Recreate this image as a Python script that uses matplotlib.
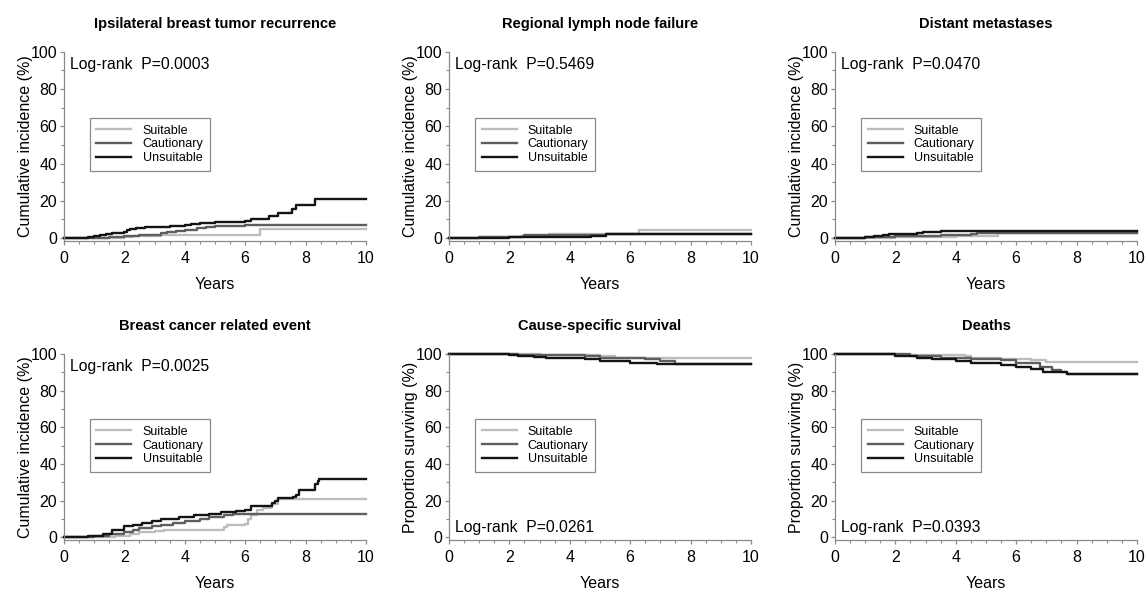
import numpy as np, matplotlib
matplotlib.use("Agg")
import matplotlib.pyplot as plt
from matplotlib.ticker import MultipleLocator

plt.rcParams.update({"font.family": ["Liberation Sans", "DejaVu Sans"], "font.size": 11})

GROUPS = ["Suitable", "Cautionary", "Unsuitable"]
COLORS = {"Suitable": "#bdbdbd", "Cautionary": "#5e5e5e", "Unsuitable": "#141414"}

# ---- step-curve data: (years, percent) ----
ibtr_s_t = [0, 2.0, 2.3, 3.2, 6.5, 10]
ibtr_s_v = [0, 0.5, 1, 1.5, 4.9, 4.9]
ibtr_c_t = [0, 1.5, 2.0, 2.5, 3.2, 3.4, 3.7, 4.0, 4.4, 4.7, 5.0, 5.5, 6.0, 10]
ibtr_c_v = [0, 0.5, 1, 1.5, 2.5, 3.3, 4, 4.5, 5.3, 6, 6.3, 6.7, 7, 7]
ibtr_u_t = [0, 0.8, 1.0, 1.2, 1.4, 1.6, 1.8, 2.0, 2.1, 2.2, 2.4, 2.7, 3.0, 3.5, 4.0, 4.2, 4.5,
            5.0, 5.6, 6.0, 6.2, 6.8, 7.1, 7.55, 7.7, 8.3, 10]
ibtr_u_v = [0, 0.5, 1, 1.5, 2, 2.5, 3, 3.5, 4.2, 5, 5.5, 6, 6.2, 6.5, 7, 7.5, 8,
            8.5, 8.8, 9.3, 10.5, 12, 13.5, 15.5, 18, 21, 21]

rln_s_t = [0, 1.0, 2.4, 3.3, 6.3, 10]
rln_s_v = [0, 0.5, 1, 2, 4.5, 4.5]
rln_c_t = [0, 1.0, 2.5, 5.2, 10]
rln_c_v = [0, 0.5, 1.5, 2, 2]
rln_u_t = [0, 0.7, 2.0, 4.7, 5.2, 10]
rln_u_v = [0, 0.3, 0.8, 1, 2, 2]

dm_s_t = [0, 2.0, 4.0, 5.4, 10]
dm_s_v = [0, 0.5, 1, 2.5, 2.5]
dm_c_t = [0, 1.0, 2.0, 3.0, 3.5, 4.5, 4.7, 10]
dm_c_v = [0, 0.5, 1, 1.2, 1.5, 2, 2.5, 2.5]
dm_u_t = [0, 0.5, 1.0, 1.3, 1.6, 1.8, 2.7, 2.9, 3.5, 4.0, 10]
dm_u_v = [0, 0.2, 0.5, 1, 1.5, 2, 2.5, 3.5, 3.8, 4, 4]

bcre_s_t = [0, 1.7, 2.0, 2.2, 2.5, 3.0, 3.3, 5.3, 5.4, 6.0, 6.1, 6.2, 6.4, 6.6, 6.9, 7.1, 10]
bcre_s_v = [0, 0.5, 1, 2, 3, 3.5, 4, 5.5, 7, 7.5, 10, 12, 15, 16, 18, 21, 21]
bcre_c_t = [0, 1.0, 1.2, 1.5, 2.0, 2.3, 2.5, 2.9, 3.2, 3.6, 4.0, 4.5, 4.8, 5.3, 5.6, 6.0, 10]
bcre_c_v = [0, 0.5, 1, 2, 3, 4, 5, 6, 7, 8, 9, 10, 11, 12, 12.5, 12.6, 12.6]
bcre_u_t = [0, 0.8, 1.0, 1.3, 1.6, 2.0, 2.3, 2.6, 2.9, 3.2, 3.8, 4.3, 4.8, 5.2, 5.7, 6.0, 6.2,
            6.9, 7.0, 7.1, 7.6, 7.7, 7.8, 8.3, 8.4, 8.45, 10]
bcre_u_v = [0, 0.5, 1, 2, 4, 6, 7, 8, 9, 10, 11, 12, 13, 14, 14.5, 15, 17,
            19, 20, 21.2, 22, 23, 26, 29, 30.5, 32, 32]

css_s_t = [0, 3.0, 4.0, 5.0, 5.5, 6.5, 10]
css_s_v = [100, 99.7, 99.5, 99, 98, 97.7, 97.7]
css_c_t = [0, 2.3, 3.0, 4.5, 5.0, 6.5, 7.0, 7.5, 10]
css_c_v = [100, 99.7, 99.5, 99, 98, 97, 96, 94.3, 94.3]
css_u_t = [0, 2.0, 2.3, 2.8, 3.2, 4.5, 5.0, 6.0, 6.9, 10]
css_u_v = [100, 99.5, 99, 98.5, 98, 97, 96, 95, 94.3, 94.3]

dth_s_t = [0, 2.0, 3.0, 4.3, 4.5, 5.5, 6.5, 7.0, 10]
dth_s_v = [100, 99.7, 99.5, 99, 98, 97.5, 96.5, 95.5, 95.5]
dth_c_t = [0, 2.5, 3.5, 4.5, 5.5, 6.0, 6.8, 7.2, 7.5, 7.7, 10]
dth_c_v = [100, 99, 98, 97.5, 96.5, 95, 93, 91, 90, 89.3, 89.3]
dth_u_t = [0, 2.0, 2.7, 3.2, 4.0, 4.5, 5.5, 6.0, 6.5, 6.9, 7.7, 10]
dth_u_v = [100, 99, 98, 97, 96, 95, 94, 93, 92, 90, 89.3, 89.3]

titles = ["Ipsilateral breast tumor recurrence", "Regional lymph node failure", "Distant metastases",
          "Breast cancer related event", "Cause-specific survival", "Deaths"]
pvals = ["0.0003", "0.5469", "0.0470", "0.0025", "0.0261", "0.0393"]
ylabels = ["Cumulative incidence (%)"] * 4 + ["Proportion surviving (%)"] * 2
curves = [
    [(ibtr_s_t, ibtr_s_v), (ibtr_c_t, ibtr_c_v), (ibtr_u_t, ibtr_u_v)],
    [(rln_s_t, rln_s_v), (rln_c_t, rln_c_v), (rln_u_t, rln_u_v)],
    [(dm_s_t, dm_s_v), (dm_c_t, dm_c_v), (dm_u_t, dm_u_v)],
    [(bcre_s_t, bcre_s_v), (bcre_c_t, bcre_c_v), (bcre_u_t, bcre_u_v)],
    [(css_s_t, css_s_v), (css_c_t, css_c_v), (css_u_t, css_u_v)],
    [(dth_s_t, dth_s_v), (dth_c_t, dth_c_v), (dth_u_t, dth_u_v)],
]

fig = plt.figure(figsize=(11.46, 5.89), dpi=100)
lefts = [0.0558, 0.3918, 0.7286]
rows = [(0.591, 0.321), (0.083, 0.316)]
AX = "#8a8a8a"

for i in range(6):
    r, c = divmod(i, 3)
    ax = fig.add_axes([lefts[c], rows[r][0], 0.2635, rows[r][1]])
    for g, (t, v) in zip(GROUPS, curves[i]):
        ax.step(t, v, where="post", color=COLORS[g], lw=1.7, label=g, clip_on=False)
    ax.set_xlim(0, 10); ax.set_ylim(-1.5, 100)
    ax.spines[["top", "right"]].set_visible(False)
    for s in ("left", "bottom"):
        ax.spines[s].set_color(AX); ax.spines[s].set_linewidth(0.9)
    ax.set_xticks(range(0, 11, 2)); ax.set_yticks(range(0, 101, 20))
    ax.xaxis.set_minor_locator(MultipleLocator(0.5))
    ax.yaxis.set_minor_locator(MultipleLocator(10))
    ax.tick_params(which="major", length=3, width=0.9, color=AX, labelsize=11.5)
    ax.tick_params(axis="x", which="major", pad=4)
    ax.tick_params(axis="y", which="major", pad=2)
    ax.tick_params(which="minor", length=2, width=0.8, color=AX)
    ax.set_title(titles[i], fontsize=10.5, fontweight="bold", pad=17)
    ax.set_xlabel("Years", fontsize=11.5, labelpad=8)
    ax.set_ylabel(ylabels[i], fontsize=11.5, labelpad=-2)
    ty, va = (97, "top") if i < 4 else (1.5, "bottom")
    ax.text(0.2, ty, f"Log-rank  P={pvals[i]}", fontsize=11.3, va=va, ha="left")
    leg = ax.legend(loc="upper left", bbox_to_anchor=(0.085, 0.652), borderaxespad=0,
                    fontsize=9, handlelength=2.8, labelspacing=0.15, fancybox=False,
                    framealpha=1, edgecolor=AX, borderpad=0.55, handletextpad=0.9,
                    handleheight=0.6)
    leg.get_frame().set_linewidth(0.9)

fig.savefig("out.png", dpi=100)
